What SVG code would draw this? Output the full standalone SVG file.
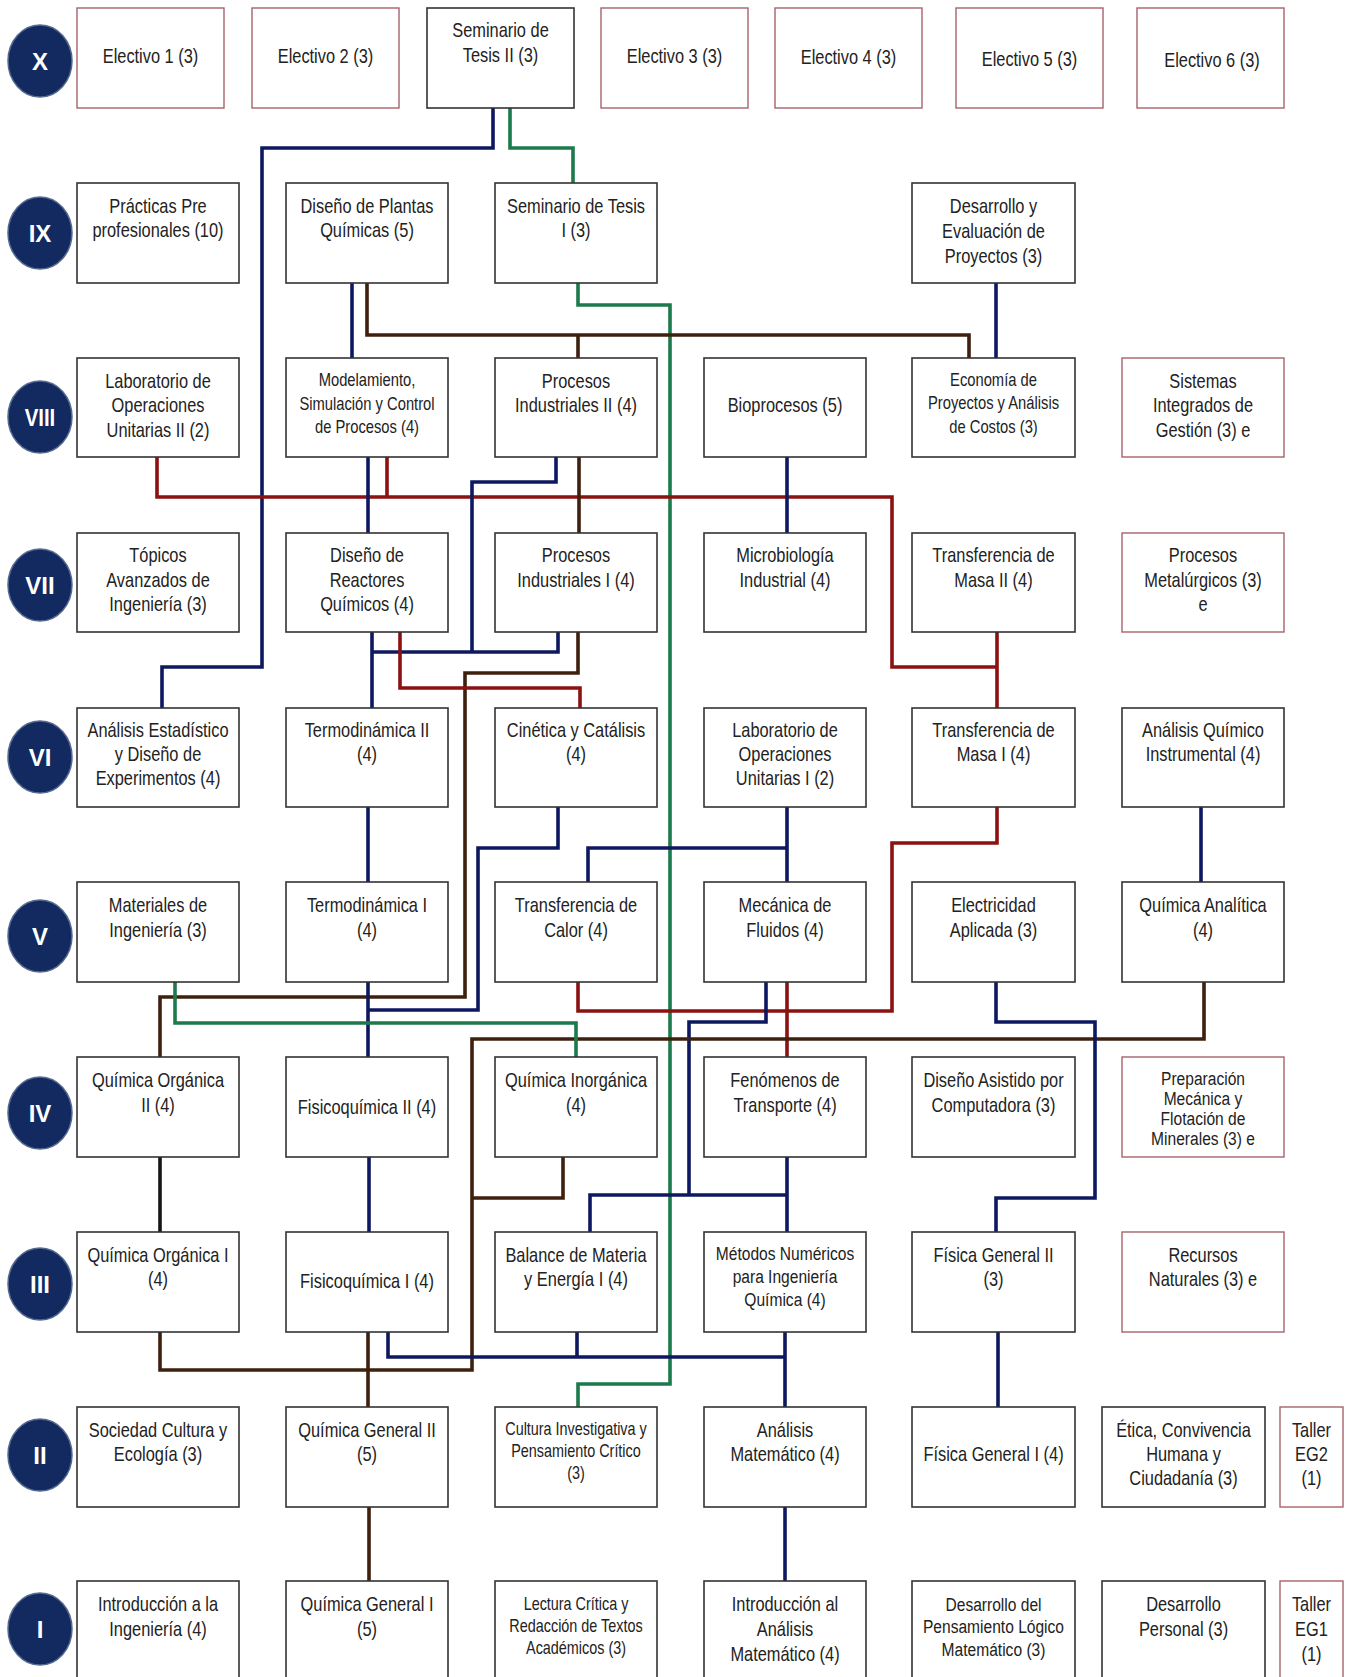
<svg xmlns="http://www.w3.org/2000/svg" width="1348" height="1677" viewBox="0 0 1348 1677">
<style>
.b{fill:#fff;stroke:#333;stroke-width:1.6}
.e{fill:#fff;stroke:#a8636c;stroke-width:1.4}
.t{font-family:"Liberation Sans",Arial,sans-serif;font-size:20px;fill:#222;text-anchor:middle}
.s{font-size:18px}
.m{font-size:19px}
.c{fill:#122a60;stroke:#55698f;stroke-width:1.5}
.ct{font-family:"Liberation Sans",Arial,sans-serif;font-size:24px;font-weight:bold;fill:#fff;text-anchor:middle}
.L{fill:none;stroke-width:3.6;stroke-linejoin:miter}
.nv{stroke:#0e1860}.br{stroke:#3d200e}.rd{stroke:#8c1111}.gr{stroke:#1c7a4c}.bk{stroke:#151515}
</style>
<rect width="1348" height="1677" fill="#fff"/>

<g id="connectors">
<path class="L nv" d="M493,108 V148 H262 V667 H162 V708"/>
<path class="L gr" d="M510,108 V148 H573 V183"/>
<path class="L gr" d="M578,283 V305 H670 V1384 H578 V1407"/>
<path class="L nv" d="M352,283 V358"/>
<path class="L br" d="M367,283 V335 H969 V358 M578,335 V358"/>
<path class="L nv" d="M996,283 V358"/>
<path class="L rd" d="M157,457 V497 H892 V667 H997 M387,457 V497 M997,632 V708"/>
<path class="L nv" d="M368,457 V533"/>
<path class="L nv" d="M556,457 V482 H472 V652 M372,632 V708 M372,652 H558 V632"/>
<path class="L br" d="M579,457 V533"/>
<path class="L nv" d="M787,457 V533"/>
<path class="L br" d="M578,632 V673 H465 V997 H160 V1057"/>
<path class="L rd" d="M400,632 V688 H580 V708"/>
<path class="L nv" d="M558,807 V848 H478 V1010 H368"/>
<path class="L nv" d="M368,807 V882 M368,982 V1057"/>
<path class="L nv" d="M787,807 V882 M787,848 H588 V882"/>
<path class="L rd" d="M997,807 V843 H892 V1011 H578 V982 M787,982 V1057"/>
<path class="L nv" d="M766,982 V1022 H689 V1195 M787,1157 V1232 M590,1232 V1195 H787"/>
<path class="L br" d="M1204,982 V1039 H472 V1370 H160 V1332 M563,1157 V1198 H472 M368,1332 V1407"/>
<path class="L gr" d="M175,982 V1023 H576 V1057"/>
<path class="L nv" d="M996,982 V1022 H1095 V1198 H996 V1232"/>
<path class="L nv" d="M1201,807 V882"/>
<path class="L bk" d="M160,1157 V1232"/>
<path class="L nv" d="M369,1157 V1232"/>
<path class="L nv" d="M388,1332 V1357 H785 M577,1332 V1357 M785,1332 V1407"/>
<path class="L br" d="M369,1507 V1581"/>
<path class="L nv" d="M785,1507 V1581"/>
<path class="L nv" d="M998,1332 V1407"/>
</g>

<g id="semesters">
<g id="sem-X"><ellipse class="c" cx="40" cy="61" rx="32" ry="36"/><text class="ct" x="40" y="70">X</text></g>
<g id="sem-IX"><ellipse class="c" cx="40" cy="233" rx="32" ry="36"/><text class="ct" x="40" y="242">IX</text></g>
<g id="sem-VIII"><ellipse class="c" cx="40" cy="417" rx="32" ry="36"/><text class="ct" x="40" y="426" transform="translate(40 0) scale(0.85 1) translate(-40 0)">VIII</text></g>
<g id="sem-VII"><ellipse class="c" cx="40" cy="585" rx="32" ry="36"/><text class="ct" x="40" y="594">VII</text></g>
<g id="sem-VI"><ellipse class="c" cx="40" cy="757" rx="32" ry="36"/><text class="ct" x="40" y="766">VI</text></g>
<g id="sem-V"><ellipse class="c" cx="40" cy="936" rx="32" ry="36"/><text class="ct" x="40" y="945">V</text></g>
<g id="sem-IV"><ellipse class="c" cx="40" cy="1113" rx="32" ry="36"/><text class="ct" x="40" y="1122">IV</text></g>
<g id="sem-III"><ellipse class="c" cx="40" cy="1284" rx="32" ry="36"/><text class="ct" x="40" y="1293">III</text></g>
<g id="sem-II"><ellipse class="c" cx="40" cy="1455" rx="32" ry="36"/><text class="ct" x="40" y="1464">II</text></g>
<g id="sem-I"><ellipse class="c" cx="40" cy="1629" rx="32" ry="36"/><text class="ct" x="40" y="1638">I</text></g>
</g>

<g id="row-X">
<g id="electivo1"><rect class="e" x="77" y="8" width="147" height="100"/><text class="t" transform="translate(150.5 0) scale(0.82 1)"><tspan x="0" y="63">Electivo 1 (3)</tspan></text></g>
<g id="electivo2"><rect class="e" x="252" y="8" width="147" height="100"/><text class="t" transform="translate(325.5 0) scale(0.82 1)"><tspan x="0" y="63">Electivo 2 (3)</tspan></text></g>
<g id="seminario2"><rect class="b" x="427" y="8" width="147" height="100"/><text class="t" transform="translate(500.5 0) scale(0.82 1)"><tspan x="0" y="37">Seminario de</tspan><tspan x="0" y="62">Tesis II (3)</tspan></text></g>
<g id="electivo3"><rect class="e" x="601" y="8" width="147" height="100"/><text class="t" transform="translate(674.5 0) scale(0.82 1)"><tspan x="0" y="63">Electivo 3 (3)</tspan></text></g>
<g id="electivo4"><rect class="e" x="775" y="8" width="147" height="100"/><text class="t" transform="translate(848.5 0) scale(0.82 1)"><tspan x="0" y="64">Electivo 4 (3)</tspan></text></g>
<g id="electivo5"><rect class="e" x="956" y="8" width="147" height="100"/><text class="t" transform="translate(1029.5 0) scale(0.82 1)"><tspan x="0" y="66">Electivo 5 (3)</tspan></text></g>
<g id="electivo6"><rect class="e" x="1137" y="8" width="147" height="100"/><text class="t" transform="translate(1212 0) scale(0.82 1)"><tspan x="0" y="67">Electivo 6 (3)</tspan></text></g>
</g>

<g id="row-IX">
<g id="practicas"><rect class="b" x="77" y="183" width="162" height="100"/><text class="t" transform="translate(158 0) scale(0.82 1)"><tspan x="0" y="213">Prácticas Pre</tspan><tspan x="0" y="237">profesionales (10)</tspan></text></g>
<g id="diseno-plantas"><rect class="b" x="286" y="183" width="162" height="100"/><text class="t" transform="translate(367 0) scale(0.82 1)"><tspan x="0" y="213">Diseño de Plantas</tspan><tspan x="0" y="237">Químicas (5)</tspan></text></g>
<g id="seminario1"><rect class="b" x="495" y="183" width="162" height="100"/><text class="t" transform="translate(576 0) scale(0.82 1)"><tspan x="0" y="213">Seminario de Tesis</tspan><tspan x="0" y="237">I (3)</tspan></text></g>
<g id="desarrollo-evaluacion"><rect class="b" x="912" y="183" width="163" height="100"/><text class="t" transform="translate(993.5 0) scale(0.82 1)"><tspan x="0" y="213">Desarrollo y</tspan><tspan x="0" y="238">Evaluación de</tspan><tspan x="0" y="263">Proyectos (3)</tspan></text></g>
</g>

<g id="row-VIII">
<g id="lab-ou2"><rect class="b" x="77" y="358" width="162" height="99"/><text class="t" transform="translate(158 0) scale(0.82 1)"><tspan x="0" y="388">Laboratorio de</tspan><tspan x="0" y="412">Operaciones</tspan><tspan x="0" y="437">Unitarias II (2)</tspan></text></g>
<g id="modelamiento"><rect class="b" x="286" y="358" width="162" height="99"/><text class="t s" transform="translate(367 0) scale(0.82 1)"><tspan x="0" y="386">Modelamiento,</tspan><tspan x="0" y="410">Simulación y Control</tspan><tspan x="0" y="433">de Procesos (4)</tspan></text></g>
<g id="procesos-ind2"><rect class="b" x="495" y="358" width="162" height="99"/><text class="t" transform="translate(576 0) scale(0.82 1)"><tspan x="0" y="388">Procesos</tspan><tspan x="0" y="412">Industriales II (4)</tspan></text></g>
<g id="bioprocesos"><rect class="b" x="704" y="358" width="162" height="99"/><text class="t" transform="translate(785 0) scale(0.82 1)"><tspan x="0" y="412">Bioprocesos (5)</tspan></text></g>
<g id="economia"><rect class="b" x="912" y="358" width="163" height="99"/><text class="t s" transform="translate(993.5 0) scale(0.82 1)"><tspan x="0" y="386">Economía de</tspan><tspan x="0" y="409">Proyectos y Análisis</tspan><tspan x="0" y="433">de Costos (3)</tspan></text></g>
<g id="sistemas"><rect class="e" x="1122" y="358" width="162" height="99"/><text class="t" transform="translate(1203 0) scale(0.82 1)"><tspan x="0" y="388">Sistemas</tspan><tspan x="0" y="412">Integrados de</tspan><tspan x="0" y="437">Gestión (3) e</tspan></text></g>
</g>

<g id="row-VII">
<g id="topicos"><rect class="b" x="77" y="533" width="162" height="99"/><text class="t" transform="translate(158 0) scale(0.82 1)"><tspan x="0" y="562">Tópicos</tspan><tspan x="0" y="587">Avanzados de</tspan><tspan x="0" y="611">Ingeniería (3)</tspan></text></g>
<g id="reactores"><rect class="b" x="286" y="533" width="162" height="99"/><text class="t" transform="translate(367 0) scale(0.82 1)"><tspan x="0" y="562">Diseño de</tspan><tspan x="0" y="587">Reactores</tspan><tspan x="0" y="611">Químicos (4)</tspan></text></g>
<g id="procesos-ind1"><rect class="b" x="495" y="533" width="162" height="99"/><text class="t" transform="translate(576 0) scale(0.82 1)"><tspan x="0" y="562">Procesos</tspan><tspan x="0" y="587">Industriales I (4)</tspan></text></g>
<g id="microbiologia"><rect class="b" x="704" y="533" width="162" height="99"/><text class="t" transform="translate(785 0) scale(0.82 1)"><tspan x="0" y="562">Microbiología</tspan><tspan x="0" y="587">Industrial (4)</tspan></text></g>
<g id="masa2"><rect class="b" x="912" y="533" width="163" height="99"/><text class="t" transform="translate(993.5 0) scale(0.82 1)"><tspan x="0" y="562">Transferencia de</tspan><tspan x="0" y="587">Masa II (4)</tspan></text></g>
<g id="metalurgicos"><rect class="e" x="1122" y="533" width="162" height="99"/><text class="t" transform="translate(1203 0) scale(0.82 1)"><tspan x="0" y="562">Procesos</tspan><tspan x="0" y="587">Metalúrgicos (3)</tspan><tspan x="0" y="611">e</tspan></text></g>
</g>

<g id="row-VI">
<g id="estadistico"><rect class="b" x="77" y="708" width="162" height="99"/><text class="t" transform="translate(158 0) scale(0.82 1)"><tspan x="0" y="737">Análisis Estadístico</tspan><tspan x="0" y="761">y Diseño de</tspan><tspan x="0" y="785">Experimentos (4)</tspan></text></g>
<g id="termo2"><rect class="b" x="286" y="708" width="162" height="99"/><text class="t" transform="translate(367 0) scale(0.82 1)"><tspan x="0" y="737">Termodinámica II</tspan><tspan x="0" y="761">(4)</tspan></text></g>
<g id="cinetica"><rect class="b" x="495" y="708" width="162" height="99"/><text class="t" transform="translate(576 0) scale(0.82 1)"><tspan x="0" y="737">Cinética y Catálisis</tspan><tspan x="0" y="761">(4)</tspan></text></g>
<g id="lab-ou1"><rect class="b" x="704" y="708" width="162" height="99"/><text class="t" transform="translate(785 0) scale(0.82 1)"><tspan x="0" y="737">Laboratorio de</tspan><tspan x="0" y="761">Operaciones</tspan><tspan x="0" y="785">Unitarias I (2)</tspan></text></g>
<g id="masa1"><rect class="b" x="912" y="708" width="163" height="99"/><text class="t" transform="translate(993.5 0) scale(0.82 1)"><tspan x="0" y="737">Transferencia de</tspan><tspan x="0" y="761">Masa I (4)</tspan></text></g>
<g id="quimico-instrumental"><rect class="b" x="1122" y="708" width="162" height="99"/><text class="t" transform="translate(1203 0) scale(0.82 1)"><tspan x="0" y="737">Análisis Químico</tspan><tspan x="0" y="761">Instrumental (4)</tspan></text></g>
</g>

<g id="row-V">
<g id="materiales"><rect class="b" x="77" y="882" width="162" height="100"/><text class="t" transform="translate(158 0) scale(0.82 1)"><tspan x="0" y="912">Materiales de</tspan><tspan x="0" y="937">Ingeniería (3)</tspan></text></g>
<g id="termo1"><rect class="b" x="286" y="882" width="162" height="100"/><text class="t" transform="translate(367 0) scale(0.82 1)"><tspan x="0" y="912">Termodinámica I</tspan><tspan x="0" y="937">(4)</tspan></text></g>
<g id="calor"><rect class="b" x="495" y="882" width="162" height="100"/><text class="t" transform="translate(576 0) scale(0.82 1)"><tspan x="0" y="912">Transferencia de</tspan><tspan x="0" y="937">Calor (4)</tspan></text></g>
<g id="fluidos"><rect class="b" x="704" y="882" width="162" height="100"/><text class="t" transform="translate(785 0) scale(0.82 1)"><tspan x="0" y="912">Mecánica de</tspan><tspan x="0" y="937">Fluidos (4)</tspan></text></g>
<g id="electricidad"><rect class="b" x="912" y="882" width="163" height="100"/><text class="t" transform="translate(993.5 0) scale(0.82 1)"><tspan x="0" y="912">Electricidad</tspan><tspan x="0" y="937">Aplicada (3)</tspan></text></g>
<g id="analitica"><rect class="b" x="1122" y="882" width="162" height="100"/><text class="t" transform="translate(1203 0) scale(0.82 1)"><tspan x="0" y="912">Química Analítica</tspan><tspan x="0" y="937">(4)</tspan></text></g>
</g>

<g id="row-IV">
<g id="organica2"><rect class="b" x="77" y="1057" width="162" height="100"/><text class="t" transform="translate(158 0) scale(0.82 1)"><tspan x="0" y="1087">Química Orgánica</tspan><tspan x="0" y="1112">II (4)</tspan></text></g>
<g id="fisicoquimica2"><rect class="b" x="286" y="1057" width="162" height="100"/><text class="t" transform="translate(367 0) scale(0.82 1)"><tspan x="0" y="1114">Fisicoquímica II (4)</tspan></text></g>
<g id="inorganica"><rect class="b" x="495" y="1057" width="162" height="100"/><text class="t" transform="translate(576 0) scale(0.82 1)"><tspan x="0" y="1087">Química Inorgánica</tspan><tspan x="0" y="1112">(4)</tspan></text></g>
<g id="fenomenos"><rect class="b" x="704" y="1057" width="162" height="100"/><text class="t" transform="translate(785 0) scale(0.82 1)"><tspan x="0" y="1087">Fenómenos de</tspan><tspan x="0" y="1112">Transporte (4)</tspan></text></g>
<g id="cad"><rect class="b" x="912" y="1057" width="163" height="100"/><text class="t" transform="translate(993.5 0) scale(0.82 1)"><tspan x="0" y="1087">Diseño Asistido por</tspan><tspan x="0" y="1112">Computadora (3)</tspan></text></g>
<g id="preparacion"><rect class="e" x="1122" y="1057" width="162" height="100"/><text class="t m" transform="translate(1203 0) scale(0.82 1)"><tspan x="0" y="1085">Preparación</tspan><tspan x="0" y="1105">Mecánica y</tspan><tspan x="0" y="1125">Flotación de</tspan><tspan x="0" y="1145">Minerales (3) e</tspan></text></g>
</g>

<g id="row-III">
<g id="organica1"><rect class="b" x="77" y="1232" width="162" height="100"/><text class="t" transform="translate(158 0) scale(0.82 1)"><tspan x="0" y="1262">Química Orgánica I</tspan><tspan x="0" y="1286">(4)</tspan></text></g>
<g id="fisicoquimica1"><rect class="b" x="286" y="1232" width="162" height="100"/><text class="t" transform="translate(367 0) scale(0.82 1)"><tspan x="0" y="1288">Fisicoquímica I (4)</tspan></text></g>
<g id="balance"><rect class="b" x="495" y="1232" width="162" height="100"/><text class="t" transform="translate(576 0) scale(0.82 1)"><tspan x="0" y="1262">Balance de Materia</tspan><tspan x="0" y="1286">y Energía I (4)</tspan></text></g>
<g id="metodos"><rect class="b" x="704" y="1232" width="162" height="100"/><text class="t m" transform="translate(785 0) scale(0.82 1)"><tspan x="0" y="1260">Métodos Numéricos</tspan><tspan x="0" y="1283">para Ingeniería</tspan><tspan x="0" y="1306">Química (4)</tspan></text></g>
<g id="fisica2"><rect class="b" x="912" y="1232" width="163" height="100"/><text class="t" transform="translate(993.5 0) scale(0.82 1)"><tspan x="0" y="1262">Física General II</tspan><tspan x="0" y="1286">(3)</tspan></text></g>
<g id="recursos"><rect class="e" x="1122" y="1232" width="162" height="100"/><text class="t" transform="translate(1203 0) scale(0.82 1)"><tspan x="0" y="1262">Recursos</tspan><tspan x="0" y="1286">Naturales (3) e</tspan></text></g>
</g>

<g id="row-II">
<g id="sociedad"><rect class="b" x="77" y="1407" width="162" height="100"/><text class="t" transform="translate(158 0) scale(0.82 1)"><tspan x="0" y="1437">Sociedad Cultura y</tspan><tspan x="0" y="1461">Ecología (3)</tspan></text></g>
<g id="quimica-general2"><rect class="b" x="286" y="1407" width="162" height="100"/><text class="t" transform="translate(367 0) scale(0.82 1)"><tspan x="0" y="1437">Química General II</tspan><tspan x="0" y="1461">(5)</tspan></text></g>
<g id="cultura-investigativa"><rect class="b" x="495" y="1407" width="162" height="100"/><text class="t s" transform="translate(576 0) scale(0.8 1)"><tspan x="0" y="1435">Cultura Investigativa y</tspan><tspan x="0" y="1457">Pensamiento Crítico</tspan><tspan x="0" y="1479">(3)</tspan></text></g>
<g id="analisis-matematico"><rect class="b" x="704" y="1407" width="162" height="100"/><text class="t" transform="translate(785 0) scale(0.82 1)"><tspan x="0" y="1437">Análisis</tspan><tspan x="0" y="1461">Matemático (4)</tspan></text></g>
<g id="fisica1"><rect class="b" x="912" y="1407" width="163" height="100"/><text class="t" transform="translate(993.5 0) scale(0.82 1)"><tspan x="0" y="1461">Física General I (4)</tspan></text></g>
<g id="etica"><rect class="b" x="1102" y="1407" width="163" height="100"/><text class="t" transform="translate(1183.5 0) scale(0.82 1)"><tspan x="0" y="1437">Ética, Convivencia</tspan><tspan x="0" y="1461">Humana y</tspan><tspan x="0" y="1485">Ciudadanía (3)</tspan></text></g>
<g id="taller-eg2"><rect class="e" x="1280" y="1407" width="63" height="100"/><text class="t" transform="translate(1311.5 0) scale(0.82 1)"><tspan x="0" y="1437">Taller</tspan><tspan x="0" y="1461">EG2</tspan><tspan x="0" y="1485">(1)</tspan></text></g>
</g>

<g id="row-I">
<g id="intro-ingenieria"><rect class="b" x="77" y="1581" width="162" height="100"/><text class="t" transform="translate(158 0) scale(0.82 1)"><tspan x="0" y="1611">Introducción a la</tspan><tspan x="0" y="1636">Ingeniería (4)</tspan></text></g>
<g id="quimica-general1"><rect class="b" x="286" y="1581" width="162" height="100"/><text class="t" transform="translate(367 0) scale(0.82 1)"><tspan x="0" y="1611">Química General I</tspan><tspan x="0" y="1636">(5)</tspan></text></g>
<g id="lectura-critica"><rect class="b" x="495" y="1581" width="162" height="100"/><text class="t s" transform="translate(576 0) scale(0.8 1)"><tspan x="0" y="1610">Lectura Crítica y</tspan><tspan x="0" y="1632">Redacción de Textos</tspan><tspan x="0" y="1654">Académicos (3)</tspan></text></g>
<g id="intro-analisis"><rect class="b" x="704" y="1581" width="162" height="100"/><text class="t" transform="translate(785 0) scale(0.82 1)"><tspan x="0" y="1611">Introducción al</tspan><tspan x="0" y="1636">Análisis</tspan><tspan x="0" y="1661">Matemático (4)</tspan></text></g>
<g id="pensamiento-logico"><rect class="b" x="912" y="1581" width="163" height="100"/><text class="t m" transform="translate(993.5 0) scale(0.82 1)"><tspan x="0" y="1611">Desarrollo del</tspan><tspan x="0" y="1633">Pensamiento Lógico</tspan><tspan x="0" y="1656">Matemático (3)</tspan></text></g>
<g id="desarrollo-personal"><rect class="b" x="1102" y="1581" width="163" height="100"/><text class="t" transform="translate(1183.5 0) scale(0.82 1)"><tspan x="0" y="1611">Desarrollo</tspan><tspan x="0" y="1636">Personal (3)</tspan></text></g>
<g id="taller-eg1"><rect class="e" x="1280" y="1581" width="63" height="100"/><text class="t" transform="translate(1311.5 0) scale(0.82 1)"><tspan x="0" y="1611">Taller</tspan><tspan x="0" y="1636">EG1</tspan><tspan x="0" y="1661">(1)</tspan></text></g>
</g>
</svg>
